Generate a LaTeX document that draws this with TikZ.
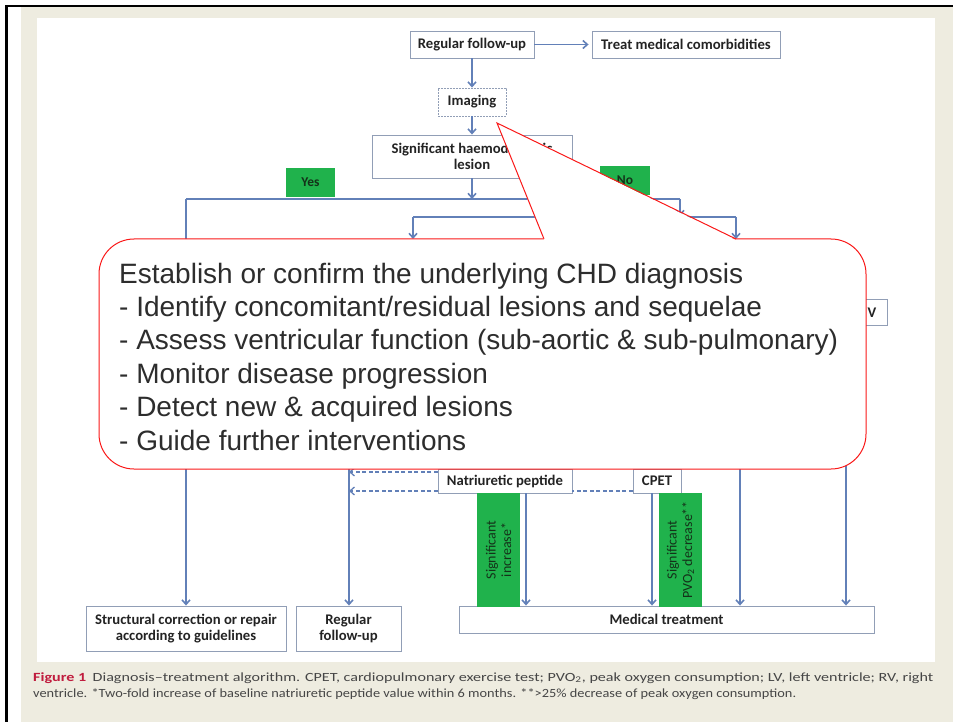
\documentclass[tikz,border=0pt]{standalone}
\usepackage{fontspec}
\usepackage{graphicx}
\setmainfont{Liberation Sans}
\newfontfamily\boxfont{Carlito}
\usetikzlibrary{arrows.meta}

\definecolor{beige}{RGB}{238,236,224}
\definecolor{frameblue}{RGB}{145,158,182}
\definecolor{arrowblue}{RGB}{98,128,184}
\definecolor{flowgreen}{RGB}{32,178,76}
\definecolor{tagtext}{RGB}{20,50,25}
\definecolor{calloutred}{RGB}{250,25,25}
\definecolor{calltext}{RGB}{45,45,45}
\definecolor{captionred}{RGB}{192,28,62}
\definecolor{captiongray}{RGB}{70,70,70}
\definecolor{textdark}{RGB}{35,35,35}

\tikzset{
  box/.style={draw=frameblue, line width=0.9pt, fill=white, text=textdark,
    inner sep=0pt, align=center,
    font=\boxfont\bfseries\fontsize{14.7}{16.5}\selectfont},
  tag/.style={fill=flowgreen, inner sep=0pt, align=center, text=tagtext,
    font=\boxfont\fontsize{14}{15.5}\selectfont},
  yesno/.style={tag, font=\boxfont\bfseries\fontsize{13.5}{15}\selectfont},
  link/.style={draw=arrowblue, line width=1.6pt},
  arr/.style={link, -{Straight Barb[length=4.5pt,width=8pt]}},
  dlink/.style={draw=arrowblue, line width=1.3pt, dash pattern=on 4pt off 2.5pt},
  darr/.style={dlink, -{Straight Barb[length=4.5pt,width=8pt]}},
  calloutline/.style={anchor=base west, inner sep=0pt, text=calltext,
    font=\fontsize{28}{33}\selectfont},
  captionline/.style={anchor=base west, inner sep=0pt, text=captiongray,
    font=\boxfont\fontsize{12.5}{15}\selectfont},
}

\begin{document}
\begin{tikzpicture}[x=1pt,y=-1pt]
\useasboundingbox (0,0) rectangle (953,722);

% page background, figure panel and frame
\fill[white] (0,0) rectangle (953,722);
\fill[beige] (21,7) rectangle (953,722);
\fill[white] (37,18) rectangle (935,662);
\fill[black] (5,5) rectangle (953,7.5);
\fill[black] (5,5) rectangle (7.5,722);

% top of the algorithm
\node[box, minimum width=124pt, minimum height=27pt] (rfu) at (472,44.5) {Regular follow-up};
\node[box, minimum width=188pt, minimum height=27pt] (tmc) at (686,44.5) {Treat medical comorbidities};
\node[box, dash pattern=on 2pt off 1pt, minimum width=68pt, minimum height=28pt] (img) at (472,102) {Imaging};
\node[box, minimum width=200pt, minimum height=43pt] (shl) at (472,156.5) {Significant haemodynamic\\lesion};

\node[yesno, minimum width=49pt, minimum height=29pt] (yes) at (310.5,182.5) {Yes};
\node[yesno, minimum width=50pt, minimum height=29pt] (no) at (625,180.5) {No};

\draw[arr, shorten >=3pt] (rfu.east) -- (tmc.west);
\draw[arr] (rfu.south) -- (img.north);
\draw[arr] (img.south) -- (shl.north);

% branching lines
\coordinate (busL) at (186,199);
\coordinate (busR) at (680,199);
\coordinate (busM) at (472,199);
\coordinate (bus2L) at (413,217);
\coordinate (bus2R) at (736,217);
\coordinate (endA) at (413,239);
\coordinate (endB) at (736,239);

\draw[link] (busL) -- (busR);
\draw[arr] (shl.south) -- (busM);
\draw[arr, shorten >=1pt] (busR) -- (busR |- bus2L);
\draw[link] (bus2L) -- (bus2R);
\draw[arr] (bus2L) -- (endA);
\draw[arr] (bus2R) -- (endB);

% lower part
\node[box, minimum width=200pt, minimum height=45pt] (struct) at (186,628.5) {Structural correction or repair\\according to guidelines};
\node[box, minimum width=105pt, minimum height=45pt] (rfu2) at (348.5,628.5) {Regular\\follow-up};
\node[box, minimum width=415pt, minimum height=27pt] (med) at (666.5,619.5) {Medical treatment};
\node[box, minimum width=134pt, minimum height=24pt] (np) at (505,481) {Natriuretic peptide};
\node[box, minimum width=48pt, minimum height=24pt] (cpet) at (657,481) {CPET};
\node[box, minimum width=82pt, minimum height=26pt] (vbox) at (846,312) {};
\node[inner sep=0pt, text=textdark, font=\boxfont\bfseries\fontsize{14.7}{16.5}\selectfont] (vlabel) at (872,312.5) {V};

\node[tag, rotate=90, minimum width=114pt, minimum height=43pt] (g1) at (498.5,550) {Significant\\increase*};
\node[tag, rotate=90, minimum width=114pt, minimum height=43pt] (g2) at (680.5,550) {Significant\\PVO\textsubscript{2} decrease**};

\draw[arr] (busL) -- (struct.north);

\coordinate (fuTop) at (349,460);
\coordinate (lvTop) at (740,460);
\draw[arr] (fuTop) -- (fuTop |- rfu2.north);

\draw[darr] ([yshift=9pt]np.west) -- ([yshift=9pt]np.west -| fuTop);
\draw[dlink] ([yshift=-10pt]cpet.west) -- ([yshift=-10pt]np.east);
\draw[darr] ([yshift=-10pt]np.west) -- ([yshift=-10pt]np.west -| fuTop);

\draw[arr] ([xshift=21pt]np.south) -- ([xshift=21pt]np.south |- med.north);
\draw[arr] ([xshift=-5pt]cpet.south) -- ([xshift=-5pt]cpet.south |- med.north);
\draw[arr] (lvTop) -- (lvTop |- med.north);
\draw[arr] (vbox.south) -- (vbox.south |- med.north);

% callout with pointer to the imaging step
\draw[calloutred, line width=1pt, fill=white, rounded corners=35pt] (99,239) rectangle (866,469);
\coordinate (tailL) at (544,239);
\coordinate (tailTip) at (497,123);
\coordinate (tailR) at (736,239);
\fill[white] ([yshift=-1.2pt]tailL) -- (tailTip) -- ([yshift=-1.2pt]tailR) -- cycle;
\draw[calloutred, line width=1pt, line join=miter] (tailL) -- (tailTip) -- (tailR);

\node[calloutline] (c1) at (119,283) {Establish or confirm the underlying CHD diagnosis};
\node[calloutline] (c2) at (119,316.4) {- Identify concomitant/residual lesions and sequelae};
\node[calloutline] (c3) at (119,349.8) {- Assess ventricular function (sub-aortic \& sub-pulmonary)};
\node[calloutline] (c4) at (119,383.2) {- Monitor disease progression};
\node[calloutline] (c5) at (119,416.6) {- Detect new \& acquired lesions};
\node[calloutline] (c6) at (119,450) {- Guide further interventions};

% caption
\node[captionline] (cap1) at (33,681) {\resizebox{900pt}{\height}{\textcolor{captionred}{\bfseries Figure 1}\hspace{5pt}Diagnosis–treatment algorithm. CPET, cardiopulmonary exercise test; PVO\textsubscript{2}, peak oxygen consumption; LV, left ventricle; RV, right}};
\node[captionline] (cap2) at (33,697) {\resizebox{763pt}{\height}{ventricle. *Two-fold increase of baseline natriuretic peptide value within 6 months. **>25\% decrease of peak oxygen consumption.}};
\end{tikzpicture}
\end{document}
